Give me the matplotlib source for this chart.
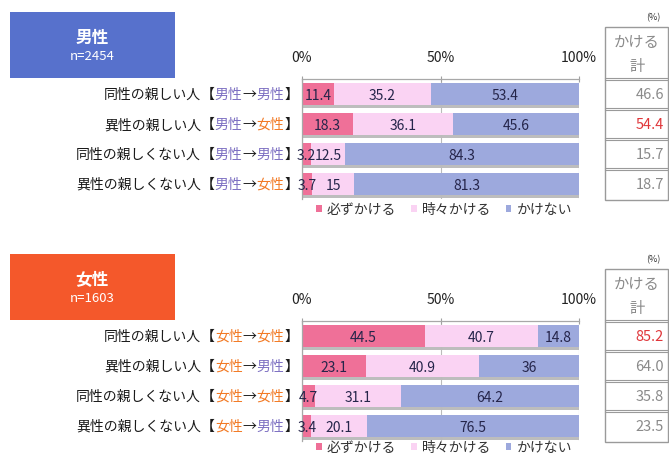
import matplotlib
matplotlib.use("Agg")
import matplotlib.pyplot as plt
from matplotlib.patches import Rectangle, Patch
from matplotlib.offsetbox import TextArea, HPacker, AnnotationBbox

plt.rcParams['font.family'] = ['Noto Sans CJK JP', 'DejaVu Sans']

W, H = 669, 456

# ---------------- data ----------------
series_names = ["必ずかける", "時々かける", "かけない"]
ticks = [0, 50, 100]
tick_labels = ["0%", "50%", "100%"]

male_title = "男性"
male_n = "n=2454"
male_cats = [
    ("同性の親しい人", "【", "男性", "→", "男性", "】"),
    ("異性の親しい人", "【", "男性", "→", "女性", "】"),
    ("同性の親しくない人", "【", "男性", "→", "男性", "】"),
    ("異性の親しくない人", "【", "男性", "→", "女性", "】"),
]
male_always = [11.4, 18.3, 3.2, 3.7]
male_sometimes = [35.2, 36.1, 12.5, 15]
male_never = [53.4, 45.6, 84.3, 81.3]
male_total = ["46.6", "54.4", "15.7", "18.7"]
male_total_red = [False, True, False, False]

female_title = "女性"
female_n = "n=1603"
female_cats = [
    ("同性の親しい人", "【", "女性", "→", "女性", "】"),
    ("異性の親しい人", "【", "女性", "→", "男性", "】"),
    ("同性の親しくない人", "【", "女性", "→", "女性", "】"),
    ("異性の親しくない人", "【", "女性", "→", "男性", "】"),
]
female_always = [44.5, 23.1, 4.7, 3.4]
female_sometimes = [40.7, 40.9, 31.1, 20.1]
female_never = [14.8, 36, 64.2, 76.5]
female_total = ["85.2", "64.0", "35.8", "23.5"]
female_total_red = [True, False, False, False]

table_header_1 = "かける"
table_header_2 = "計"
unit_label = "(%)"

# ---------------- style ----------------
C_ALWAYS = "#EF7098"
C_SOME = "#FAD3F3"
C_NEVER = "#9DA9DD"
C_MALE = "#7D70C2"
C_FEMALE = "#F27A25"
C_VAL = "#25254A"
C_GRAY = "#8A8A8A"
C_RED = "#E0363A"

fig = plt.figure(figsize=(W / 100, H / 100), dpi=100)


def fx(x):
    return x / W


def fy(y):
    return 1 - y / H


def panel(top_px, title, n, box_color, cats, always, some, never, totals, reds,
          legend_y):
    ax_top = top_px
    ax_bot = top_px + 120
    ax = fig.add_axes([fx(302), fy(ax_bot), fx(579) - fx(302), (ax_bot - ax_top) / H])
    ax.set_xlim(0, 100)
    ax.set_ylim(3.5, -0.5)
    y = list(range(len(cats)))
    bh = 0.73
    tot = [a + s + v for a, s, v in zip(always, some, never)]
    ax.barh([v + 0.09 for v in y], tot, height=bh, color="#BDBDBD", zorder=1)
    left = [0] * len(y)
    for vals, col in ((always, C_ALWAYS), (some, C_SOME), (never, C_NEVER)):
        ax.barh(y, vals, left=left, height=bh, color=col, zorder=2)
        for yi, l, v in zip(y, left, vals):
            ax.text(l + v / 2, yi + 0.03, f"{v:g}", ha="center", va="center",
                    fontsize=10, color=C_VAL, zorder=3)
        left = [l + v for l, v in zip(left, vals)]
    ax.set_xticks(ticks)
    ax.set_xticklabels(tick_labels)
    ax.xaxis.tick_top()
    ax.tick_params(axis="x", direction="inout", length=5, width=0.8, color="#A0A0A0",
                   labelsize=10, pad=8, labelcolor="#222222")
    ax.set_yticks([])
    ax.grid(axis="x", color="#BBBBBB", linewidth=0.8, zorder=0)
    for s in ("right", "bottom"):
        ax.spines[s].set_visible(False)
    for s in ("top", "left"):
        ax.spines[s].set_color("#A8A8A8")
        ax.spines[s].set_linewidth(0.9)

    # category labels with coloured parts
    for yi, parts in zip(y, cats):
        areas = []
        for p in parts:
            if p in ("男性", "女性"):
                c = C_MALE if p == "男性" else C_FEMALE
            else:
                c = "#1A1A1A"
            areas.append(TextArea(p, textprops=dict(fontsize=10, color=c)))
        pack = HPacker(children=areas, align="baseline", pad=0, sep=0)
        ab = AnnotationBbox(pack, (-0.014, yi), xycoords=ax.get_yaxis_transform(),
                            box_alignment=(1, 0.5), frameon=False, pad=0,
                            annotation_clip=False)
        ax.add_artist(ab)

    # legend
    handles = [Patch(facecolor=c, edgecolor="none") for c in (C_ALWAYS, C_SOME, C_NEVER)]
    fig.legend(handles, series_names, loc="center", ncol=3,
               bbox_to_anchor=(fx(444), fy(legend_y)), frameon=False,
               fontsize=10, handlelength=0.4, handleheight=0.4,
               handletextpad=0.36, columnspacing=1.08, borderpad=0,
               labelcolor="#333333")

    # title box
    box_top = top_px - 67
    fig.patches.append(Rectangle((fx(10), fy(box_top + 66)), fx(175) - fx(10), 66 / H,
                                 transform=fig.transFigure, facecolor=box_color,
                                 edgecolor="none"))
    fig.text(fx(92), fy(box_top + 25), title, ha="center", va="center", fontsize=12,
             fontweight="bold", color="white")
    fig.text(fx(92), fy(box_top + 44), n, ha="center", va="center", fontsize=9.5,
             color="white")

    # table
    tbl_top = top_px - 52
    tl, tr = 605, 668
    fig.patches.append(Rectangle((fx(tl), fy(ax_bot + 1)), fx(tr) - fx(tl),
                                 (ax_bot + 1 - tbl_top) / H, transform=fig.transFigure,
                                 facecolor="none", edgecolor="#9A9A9A", linewidth=1.0))
    seps = [top_px] + [top_px + 30 * k for k in (1, 2, 3)]
    for s in seps:
        for dd in (-0.8, 0.8):
            fig.add_artist(plt.Line2D([fx(tl), fx(tr)], [fy(s + dd), fy(s + dd)],
                                      transform=fig.transFigure, color="#9A9A9A",
                                      linewidth=0.8))
    fig.text(fx(637), fy(tbl_top + 15), table_header_1, ha="center", va="center",
             fontsize=11, color=C_GRAY)
    fig.text(fx(637), fy(tbl_top + 39), table_header_2, ha="center", va="center",
             fontsize=11, color=C_GRAY)
    for k, (t, r) in enumerate(zip(totals, reds)):
        fig.text(fx(664), fy(top_px + 15 + 30 * k), t, ha="right", va="center",
                 fontsize=10.5, color=C_RED if r else C_GRAY)
    fig.text(fx(653), fy(tbl_top - 10), unit_label, ha="center", va="center",
             fontsize=6.5, color="#333333")


panel(80, male_title, male_n, "#5771CC", male_cats, male_always, male_sometimes,
      male_never, male_total, male_total_red, 210)
panel(322, female_title, female_n, "#F4582B", female_cats, female_always,
      female_sometimes, female_never, female_total, female_total_red, 448)

fig.savefig("out.png", dpi=100)
